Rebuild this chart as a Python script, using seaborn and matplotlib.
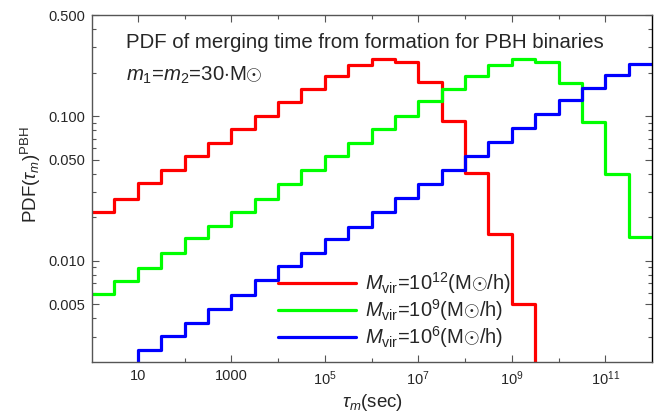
import numpy as np
import pandas as pd
import matplotlib
matplotlib.use("Agg")
import matplotlib.pyplot as plt
import seaborn as sns
from matplotlib.ticker import FixedLocator, NullFormatter

# bin edges: half-decade bins from 1 s to 1e12 s
log_edges = [i / 2 for i in range(25)]

red_vals = [0.0217, 0.0267, 0.0343, 0.0422, 0.0528, 0.0654, 0.0818, 0.100,
            0.125, 0.155, 0.190, 0.225, 0.248, 0.237, 0.172, 0.0923,
            0.0404, 0.0153, 0.00506, 1e-6]
green_vals = [0.00587, 0.00723, 0.00894, 0.0114, 0.0145, 0.0175, 0.0218, 0.0268,
              0.0341, 0.0422, 0.0528, 0.0654, 0.0818, 0.101, 0.127, 0.155,
              0.188, 0.225, 0.248, 0.237, 0.169, 0.0908, 0.0398, 0.0147]
blue_vals = [1e-6, 1e-6, 0.00244, 0.00301, 0.00373, 0.00467, 0.00578, 0.00734,
             0.00919, 0.0114, 0.0142, 0.0172, 0.0219, 0.0271, 0.0341, 0.0426,
             0.0534, 0.0660, 0.0831, 0.103, 0.1285, 0.157, 0.192, 0.229]

series_labels = [r"$M_{\rm vir}$=10$^{12}$(M$\odot$/h)",
                 r"$M_{\rm vir}$=10$^{9}$(M$\odot$/h)",
                 r"$M_{\rm vir}$=10$^{6}$(M$\odot$/h)"]
series_colors = ["#ff0000", "#00ff00", "#0000ff"]

x_ticks = [10, 1e3, 1e5, 1e7, 1e9, 1e11]
x_ticklabels = ["10", "1000", r"10$^{5}$", r"10$^{7}$", r"10$^{9}$", r"10$^{11}$"]
y_ticks = [0.005, 0.010, 0.050, 0.100, 0.500]
y_ticklabels = ["0.005", "0.010", "0.050", "0.100", "0.500"]

rows = []
for lab, vals in zip(series_labels, [red_vals, green_vals, blue_vals]):
    n = len(vals)
    xs = [10 ** e for e in log_edges[: n + 1]]
    ys = list(vals) + [vals[-1]]
    for x, y in zip(xs, ys):
        rows.append({"tau": x, "pdf": y, "series": lab})
df = pd.DataFrame(rows)

sns.set_theme(style="ticks")
plt.rcParams["font.family"] = ["Liberation Sans", "DejaVu Sans"]
plt.rcParams["mathtext.fontset"] = "custom"
plt.rcParams["mathtext.rm"] = "Liberation Sans"
plt.rcParams["mathtext.it"] = "Liberation Sans:italic"
plt.rcParams["mathtext.bf"] = "Liberation Sans:bold"

fig = plt.figure(figsize=(6.7, 4.15), dpi=100)
ax = fig.add_axes([92 / 670, 53 / 415, 560 / 670, 347 / 415])

sns.lineplot(data=df, x="tau", y="pdf", hue="series", hue_order=series_labels,
             palette=series_colors, drawstyle="steps-post", linewidth=2.3,
             estimator=None, ax=ax)

ax.set_xscale("log")
ax.set_yscale("log")
ax.set_xlim(1.05, 1e12)
ax.set_ylim(0.002, 0.5)

ax.xaxis.set_major_locator(FixedLocator(x_ticks))
ax.set_xticklabels(x_ticklabels)
ax.xaxis.set_minor_locator(FixedLocator([1e2, 1e4, 1e6, 1e8, 1e10]))
ax.xaxis.set_minor_formatter(NullFormatter())

ax.yaxis.set_major_locator(FixedLocator(y_ticks))
ax.set_yticklabels(y_ticklabels)
minor_y = [0.003, 0.004, 0.006, 0.007, 0.008, 0.009, 0.02, 0.03, 0.04,
           0.06, 0.07, 0.08, 0.09, 0.2, 0.3, 0.4]
ax.yaxis.set_minor_locator(FixedLocator(minor_y))
ax.yaxis.set_minor_formatter(NullFormatter())

ax.tick_params(which="both", direction="in", top=True, right=True,
               labelsize=10.5, color="#555555", pad=5)
ax.tick_params(which="major", length=5, width=0.8)
ax.tick_params(which="minor", length=3, width=0.8)
for s in ax.spines.values():
    s.set_color("#555555")
    s.set_linewidth(1.0)
ax.spines["right"].set_color("#000000")

ax.set_xlabel(r"$\tau_m$(sec)", fontsize=13.5, labelpad=3)
ax.set_ylabel(r"PDF($\tau_m$)$^{\rm PBH}$", fontsize=13.5)
ax.yaxis.set_label_coords(-0.087, 0.54)

ax.text(0.061, 0.922, "PDF of merging time from formation for PBH binaries",
        transform=ax.transAxes, fontsize=14.7, va="center", ha="left")
ax.text(0.061, 0.827, r"$m_1$=$m_2$=30$\cdot$M$\odot$",
        transform=ax.transAxes, fontsize=14.7, va="center", ha="left")

handles, labels = ax.get_legend_handles_labels()
ax.legend(handles, labels, loc="center left", bbox_to_anchor=(0.332, 0.15),
          frameon=False, fontsize=14.5, handlelength=3.9, handletextpad=0.4,
          borderpad=0, borderaxespad=0, labelspacing=0.05)

fig.savefig("out.png", dpi=100)
